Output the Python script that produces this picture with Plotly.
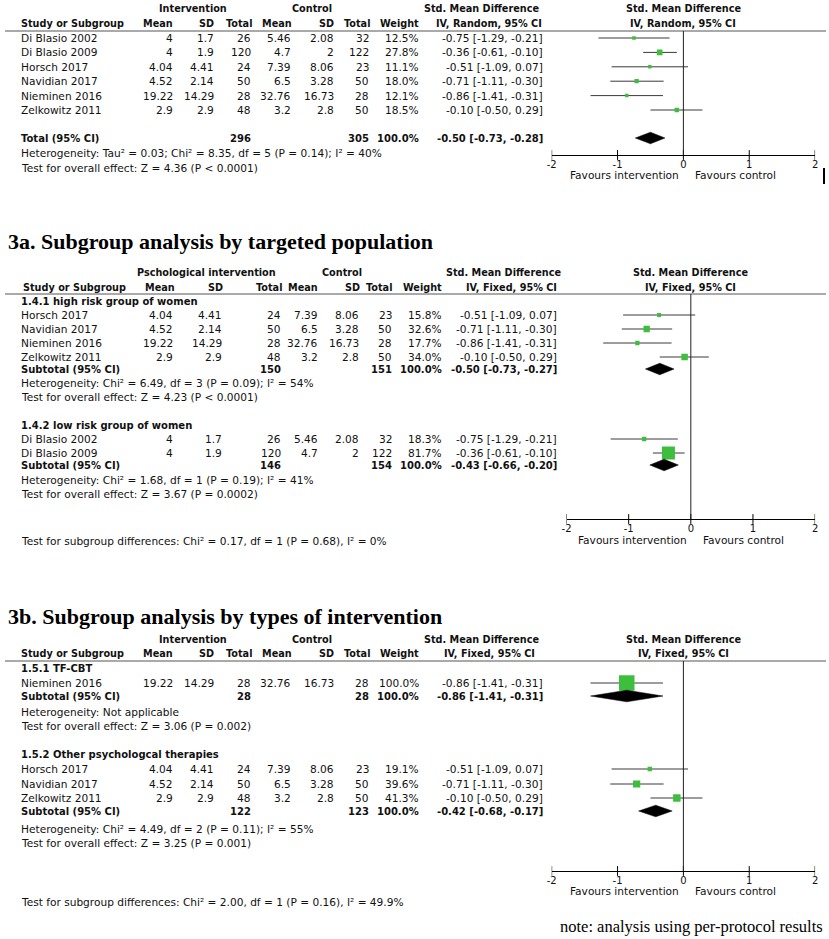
import plotly.graph_objects as go

W, H = 829, 939
SANS = "DejaVu Sans"
SERIF = "Liberation Serif"
TXT = "#111111"
GREEN = "#3dbf3d"
LINEC = "#3a3a3a"
FS = 10.6   # regular text size
FB = 9.7    # bold header text size
FT = 10.0   # bold total-row text size

# ---------------- data ----------------
studies = ["Di Blasio 2002", "Di Blasio 2009", "Horsch 2017", "Navidian 2017", "Nieminen 2016", "Zelkowitz 2011"]
int_mean = [4, 4, 4.04, 4.52, 19.22, 2.9]
int_sd = [1.7, 1.9, 4.41, 2.14, 14.29, 2.9]
int_n = [26, 120, 24, 50, 28, 48]
ctl_mean = [5.46, 4.7, 7.39, 6.5, 32.76, 3.2]
ctl_sd = [2.08, 2, 8.06, 3.28, 16.73, 2.8]
ctl_n = [32, 122, 23, 50, 28, 50]
smd = [-0.75, -0.36, -0.51, -0.71, -0.86, -0.10]
smd_lo = [-1.29, -0.61, -1.09, -1.11, -1.41, -0.50]
smd_hi = [-0.21, -0.10, 0.07, -0.30, -0.31, 0.29]

tick_vals = [-2, -1, 0, 1, 2]
tick_text = ["-2", "-1", "0", "1", "2"]
total_weight = 100.0

# Overall analysis (random effects)
overall_weights = [12.5, 27.8, 11.1, 18.0, 12.1, 18.5]
overall_n = [296, 305]
overall_est = [-0.50, -0.73, -0.28]
overall_het = "Heterogeneity: Tau² = 0.03; Chi² = 8.35, df = 5 (P = 0.14); I² = 40%"
overall_test = "Test for overall effect: Z = 4.36 (P < 0.0001)"

# 3a: by targeted population (fixed effect)
a_title = "3a. Subgroup analysis by targeted population"
a_groups = ["1.4.1 high risk group of women", "1.4.2 low risk group of women"]
a_studies = [["Horsch 2017", "Navidian 2017", "Nieminen 2016", "Zelkowitz 2011"],
             ["Di Blasio 2002", "Di Blasio 2009"]]
a_weights = [[15.8, 32.6, 17.7, 34.0], [18.3, 81.7]]
a_n = [[150, 151], [146, 154]]
a_est = [[-0.50, -0.73, -0.27], [-0.43, -0.66, -0.20]]
a_het = ["Heterogeneity: Chi² = 6.49, df = 3 (P = 0.09); I² = 54%",
         "Heterogeneity: Chi² = 1.68, df = 1 (P = 0.19); I² = 41%"]
a_test = ["Test for overall effect: Z = 4.23 (P < 0.0001)",
          "Test for overall effect: Z = 3.67 (P = 0.0002)"]
a_diff = "Test for subgroup differences: Chi² = 0.17, df = 1 (P = 0.68), I² = 0%"

# 3b: by types of intervention (fixed effect)
b_title = "3b. Subgroup analysis by types of intervention"
b_groups = ["1.5.1 TF-CBT", "1.5.2 Other psychologcal therapies"]
b_studies = [["Nieminen 2016"], ["Horsch 2017", "Navidian 2017", "Zelkowitz 2011"]]
b_weights = [[100.0], [19.1, 39.6, 41.3]]
b_n = [[28, 28], [122, 123]]
b_est = [[-0.86, -1.41, -0.31], [-0.42, -0.68, -0.17]]
b_het = ["Heterogeneity: Not applicable",
         "Heterogeneity: Chi² = 4.49, df = 2 (P = 0.11); I² = 55%"]
b_test = ["Test for overall effect: Z = 3.06 (P = 0.002)",
          "Test for overall effect: Z = 3.25 (P = 0.001)"]
b_diff = "Test for subgroup differences: Chi² = 2.00, df = 1 (P = 0.16), I² = 49.9%"

note_text = "note: analysis using per-protocol results"

# ---------------- layout (pixel positions) ----------------
P1 = dict(xa="x", x_lo=552, x_hi=818, name_x=16, cols=[170, 211, 248, 289, 332, 368], wt_x=418, ci_x=543,
          h1=8, h2=23, sep=31, axis_y=155, fav_y=175,
          hdr1=[("Intervention", 190, "center"), ("Control", 310, "center"), ("Std. Mean Difference", 481, "center")],
          hdr2=[("Study or Subgroup", 16, "left"), ("Mean", 170, "right"), ("SD", 211, "right"), ("Total", 249, "right"),
                ("Mean", 290, "right"), ("SD", 332, "right"), ("Total", 369, "right"), ("Weight", 418, "right"),
                ("IV, Random, 95% CI", 489, "center")],
          fhdr1="Std. Mean Difference", fhdr2="IV, Random, 95% CI")
P2 = dict(xa="x2", x_lo=567, x_hi=818, name_x=16, cols=[170, 219, 279, 316, 357, 391], wt_x=441, ci_x=557,
          h1=272, h2=287, sep=294, axis_y=519, fav_y=540, title_y=241,
          hdr1=[("Pschological intervention", 203, "center"), ("Control", 340, "center"), ("Std. Mean Difference", 503, "center")],
          hdr2=[("Study or Subgroup", 18, "left"), ("Mean", 172, "right"), ("SD", 220, "right"), ("Total", 280, "right"),
                ("Mean", 316, "right"), ("SD", 358, "right"), ("Total", 391, "right"), ("Weight", 441, "right"),
                ("IV, Fixed, 95% CI", 557, "right")],
          fhdr1="Std. Mean Difference", fhdr2="IV, Fixed, 95% CI",
          rows=[dict(label=301, studies=[315, 329, 343, 357], sub=369, het=383, test=397),
                dict(label=425, studies=[439, 453], sub=465, het=480, test=494)],
          diff_y=541)
P3 = dict(xa="x3", x_lo=552, x_hi=818, name_x=16, cols=[170, 211, 248, 289, 332, 368], wt_x=418, ci_x=543,
          h1=639, h2=653, sep=661, axis_y=871, fav_y=891, title_y=616,
          hdr1=[("Intervention", 190, "center"), ("Control", 310, "center"), ("Std. Mean Difference", 481, "center")],
          hdr2=[("Study or Subgroup", 16, "left"), ("Mean", 170, "right"), ("SD", 211, "right"), ("Total", 249, "right"),
                ("Mean", 290, "right"), ("SD", 332, "right"), ("Total", 369, "right"), ("Weight", 418, "right"),
                ("IV, Fixed, 95% CI", 489, "center")],
          fhdr1="Std. Mean Difference", fhdr2="IV, Fixed, 95% CI",
          rows=[dict(label=668, studies=[683], sub=696, het=712, test=726),
                dict(label=754, studies=[769, 784, 798], sub=811, het=829, test=843)],
          diff_y=902)
P1_rows = dict(studies=[38, 52.4, 66.8, 81.2, 95.6, 110], total=138, het=153, test=168)
DH = 5.8  # diamond half height (px)

fig = go.Figure()
ann = []
shapes = []


def T(x, y, s, anchor="left", bold=False, size=FS, family=SANS, color=TXT):
    ann.append(dict(x=x, y=y, xref="x4", yref="y", text=(f"<b>{s}</b>" if bold else s), showarrow=False,
                    xanchor=anchor, yanchor="middle", borderpad=0, borderwidth=0,
                    font=dict(family=family, size=size, color=color)))


def fmt_ci(e, l, h):
    return f"{e:.2f} [{l:.2f}, {h:.2f}]"


def sq(w):
    return 1.84 + 0.1366 * w


def zero_px(P):
    return P["x_lo"] + (0 - (-2)) / 4 * (P["x_hi"] - P["x_lo"])


def header(P):
    for s, x, a in P["hdr1"]:
        T(x, P["h1"], s, a, bold=True, size=FB)
    for s, x, a in P["hdr2"]:
        T(x, P["h2"], s, a, bold=True, size=FB)
    z = zero_px(P)
    T(z, P["h1"], P["fhdr1"], "center", bold=True, size=FB)
    T(z, P["h2"], P["fhdr2"], "center", bold=True, size=FB)
    shapes.append(dict(type="line", xref="x4", yref="y", x0=0, x1=W, y0=P["sep"], y1=P["sep"],
                       line=dict(color="#555555", width=1)))


def study_row(P, name, w, y):
    i = studies.index(name)
    T(P["name_x"], y, name)
    vals = [int_mean[i], int_sd[i], int_n[i], ctl_mean[i], ctl_sd[i], ctl_n[i]]
    for cx, v in zip(P["cols"], vals):
        T(cx, y, f"{v:g}", "right")
    T(P["wt_x"], y, f"{w:.1f}%", "right")
    T(P["ci_x"], y, fmt_ci(smd[i], smd_lo[i], smd_hi[i]), "right")
    fig.add_trace(go.Scatter(x=[smd_lo[i], smd_hi[i]], y=[y, y], mode="lines",
                             line=dict(color=LINEC, width=1), xaxis=P["xa"], yaxis="y",
                             hoverinfo="skip", showlegend=False))
    fig.add_trace(go.Scatter(x=[smd[i]], y=[y], mode="markers",
                             marker=dict(symbol="square", size=sq(w), color=GREEN, line=dict(width=0)),
                             xaxis=P["xa"], yaxis="y", hoverinfo="skip", showlegend=False))


def total_row(P, label, n_pair, est, y):
    T(P["name_x"], y, label, bold=True, size=FT)
    T(P["cols"][2], y, str(n_pair[0]), "right", bold=True, size=FT)
    T(P["cols"][5], y, str(n_pair[1]), "right", bold=True, size=FT)
    T(P["wt_x"], y, f"{total_weight:.1f}%", "right", bold=True, size=FT)
    T(P["ci_x"], y, fmt_ci(*est), "right", bold=True, size=FT)
    e, l, h = est
    fig.add_trace(go.Scatter(x=[l, e, h, e, l], y=[y, y - DH, y, y + DH, y], mode="lines", fill="toself",
                             fillcolor="black", line=dict(color="black", width=0.5),
                             xaxis=P["xa"], yaxis="y", hoverinfo="skip", showlegend=False))


def forest_axis(P):
    shapes.append(dict(type="line", xref=P["xa"], yref="y", x0=0, x1=0, y0=P["sep"], y1=P["axis_y"],
                       line=dict(color="#222222", width=1)))
    fig.add_trace(go.Scatter(x=tick_vals, y=[P["axis_y"]] * len(tick_vals), mode="markers",
                             marker=dict(symbol="line-ns", size=7, line=dict(color="black", width=1)),
                             xaxis=P["xa"], yaxis="y", hoverinfo="skip", showlegend=False))
    z = zero_px(P)
    T(z - 4, P["fav_y"], "Favours intervention", "right")
    T(z + 12, P["fav_y"], "Favours control", "left")


def xa_layout(P):
    return dict(domain=[P["x_lo"] / W, P["x_hi"] / W], range=[-2, 2], anchor="free",
                position=1 - P["axis_y"] / H, showline=True, linecolor="black", linewidth=1,
                ticks="", tickvals=tick_vals, ticktext=tick_text,
                tickfont=dict(family=SANS, size=10, color=TXT), showgrid=False, zeroline=False,
                fixedrange=True, layer="above traces")


# ---------------- panel 1: overall ----------------
header(P1)
for name, w, y in zip(studies, overall_weights, P1_rows["studies"]):
    study_row(P1, name, w, y)
total_row(P1, "Total (95% CI)", overall_n, overall_est, P1_rows["total"])
T(P1["name_x"], P1_rows["het"], overall_het)
T(P1["name_x"], P1_rows["test"], overall_test)
forest_axis(P1)
shapes.append(dict(type="line", xref="x4", yref="y", x0=827, x1=827, y0=168, y1=184,
                   line=dict(color="black", width=2)))


# ---------------- panels 2 and 3: subgroups ----------------
def subgroup_panel(P, title, groups, members, weights, ns, ests, hets, tests, diff):
    T(3, P["title_y"], title, "left", bold=True, size=22, family=SERIF, color="black")
    header(P)
    for g, R in enumerate(P["rows"]):
        T(P["name_x"], R["label"], groups[g], bold=True, size=FT)
        for name, w, y in zip(members[g], weights[g], R["studies"]):
            study_row(P, name, w, y)
        total_row(P, "Subtotal (95% CI)", ns[g], ests[g], R["sub"])
        T(P["name_x"], R["het"], hets[g])
        T(P["name_x"], R["test"], tests[g])
    T(P["name_x"], P["diff_y"], diff)
    forest_axis(P)


subgroup_panel(P2, a_title, a_groups, a_studies, a_weights, a_n, a_est, a_het, a_test, a_diff)
subgroup_panel(P3, b_title, b_groups, b_studies, b_weights, b_n, b_est, b_het, b_test, b_diff)
T(826, 926, note_text, "right", size=16.5, family=SERIF, color="black")

# invisible trace to anchor the pixel axis
fig.add_trace(go.Scatter(x=[0], y=[0], mode="markers", marker=dict(size=1, opacity=0),
                         xaxis="x4", yaxis="y", hoverinfo="skip", showlegend=False))

fig.update_layout(
    width=W, height=H, margin=dict(l=0, r=0, t=0, b=0),
    paper_bgcolor="white", plot_bgcolor="rgba(0,0,0,0)",
    showlegend=False, hovermode=False,
    xaxis=xa_layout(P1), xaxis2=xa_layout(P2), xaxis3=xa_layout(P3),
    xaxis4=dict(domain=[0, 1], range=[0, W], visible=False, anchor="y", fixedrange=True),
    yaxis=dict(domain=[0, 1], range=[H, 0], visible=False, anchor="x4", fixedrange=True),
    annotations=ann, shapes=shapes,
)

fig.write_html("out.html", config={"displayModeBar": False, "staticPlot": True},
               post_script="document.body.style.margin='0px';")
